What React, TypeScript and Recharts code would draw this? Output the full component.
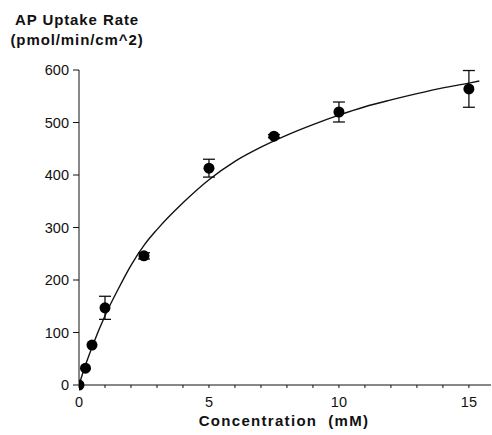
import { ComposedChart, Line, Scatter, ErrorBar, XAxis, YAxis } from 'recharts'

// measured uptake (mean ± sd)
const concentration = [0, 0.25, 0.5, 1, 2.5, 5, 7.5, 10, 15]
const uptake = [0, 32, 76, 147, 246, 413, 474, 520, 564]
const uptakeErr = [0, 0, 0, 22, 6, 17, 3, 19, 35]

// fitted curve
const curveX = [0, 0.25, 0.5, 1, 1.5, 2, 2.5, 3, 4, 5, 6, 7, 8, 9, 10, 11, 12, 13, 14, 15, 15.4]
const curveY = [0, 38, 72, 132, 182, 228, 266, 296, 347, 391, 426, 453, 476, 496, 514, 530, 543, 555, 566, 575, 579]

const xTicks = [0, 1, 2, 3, 4, 5, 6, 7, 8, 9, 10, 11, 12, 13, 14, 15]
const yTicks = [0, 100, 200, 300, 400, 500, 600]

const points = concentration.map((x, i) => ({ x, y: uptake[i], err: uptakeErr[i] }))
const curve = curveX.map((x, i) => ({ x, y: curveY[i] }))

const FONT = 'Arial, "Liberation Sans", Helvetica, sans-serif'

const XTick = ({ x, y, payload }: any) => {
  if (payload.value % 5 !== 0) return null
  return (
    <text x={x} y={y + 17} textAnchor="middle" fontSize={14.5} fontFamily={FONT} fill="#111">
      {payload.value}
    </text>
  )
}

export default function App() {
  return (
    <div style={{ position: 'absolute', left: 0, top: 0, width: 492, height: 435, background: '#fff' }}>
      <div
        style={{
          position: 'absolute', left: 0, top: 10, width: 154, textAlign: 'center',
          fontFamily: FONT, fontWeight: 'bold', fontSize: 15, lineHeight: '20px',
          letterSpacing: 0.9, color: '#111', whiteSpace: 'nowrap',
        }}
      >
        AP Uptake Rate
        <br />
        (pmol/min/cm^2)
      </div>
      <div
        style={{
          position: 'absolute', left: 194, top: 413, width: 180, textAlign: 'center',
          fontFamily: FONT, fontWeight: 'bold', fontSize: 15, lineHeight: '16px',
          letterSpacing: 1.3, color: '#111', whiteSpace: 'pre',
        }}
      >
        {'Concentration  (mM)'}
      </div>
      <ComposedChart width={492} height={435} margin={{ top: 70, right: 1, bottom: 20, left: 39 }}>
        <XAxis
          dataKey="x"
          type="number"
          domain={[0, 15.85]}
          ticks={xTicks}
          interval={0}
          tick={<XTick />}
          tickSize={3}
          stroke="#111"
          height={30}
          allowDataOverflow
        />
        <YAxis
          type="number"
          domain={[0, 600]}
          ticks={yTicks}
          interval={0}
          width={40}
          tickSize={6}
          tickMargin={4}
          stroke="#111"
          tick={{ fontSize: 14.5, fontFamily: FONT, fill: '#111' }}
        />
        <Line
          data={curve}
          dataKey="y"
          type="monotone"
          stroke="#111"
          strokeWidth={1.4}
          dot={false}
          isAnimationActive={false}
        />
        <Scatter data={points} dataKey="y" fill="#000" shape={(p: any) => <circle cx={p.cx} cy={p.cy} r={5.5} fill="#000" />} isAnimationActive={false}>
          <ErrorBar dataKey="err" direction="y" width={6} stroke="#111" strokeWidth={1.3} />
        </Scatter>
      </ComposedChart>
    </div>
  )
}
